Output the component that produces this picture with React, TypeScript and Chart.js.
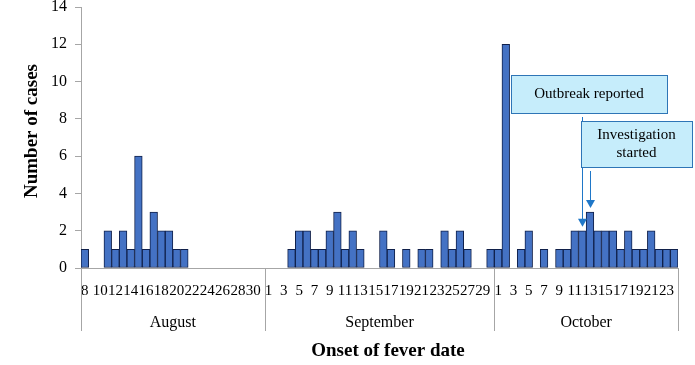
import React, { useEffect, useRef } from "react";
import { Chart, registerables } from "chart.js";

Chart.register(...registerables);

const months = ["August", "September", "October"];
const augDays = [8, 9, 10, 11, 12, 13, 14, 15, 16, 17, 18, 19, 20, 21, 22, 23, 24, 25, 26, 27, 28, 29, 30, 31];
const sepDays = [1, 2, 3, 4, 5, 6, 7, 8, 9, 10, 11, 12, 13, 14, 15, 16, 17, 18, 19, 20, 21, 22, 23, 24, 25, 26, 27, 28, 29, 30];
const octDays = [1, 2, 3, 4, 5, 6, 7, 8, 9, 10, 11, 12, 13, 14, 15, 16, 17, 18, 19, 20, 21, 22, 23, 24];

const augCases = [1, 0, 0, 2, 1, 2, 1, 6, 1, 3, 2, 2, 1, 1, 0, 0, 0, 0, 0, 0, 0, 0, 0, 0];
const sepCases = [0, 0, 0, 1, 2, 2, 1, 1, 2, 3, 1, 2, 1, 0, 0, 2, 1, 0, 1, 0, 1, 1, 0, 2, 1, 2, 1, 0, 0, 1];
const octCases = [1, 12, 0, 1, 2, 0, 1, 0, 1, 1, 2, 2, 3, 2, 2, 2, 1, 2, 1, 1, 2, 1, 1, 1];

const yTicks = [0, 2, 4, 6, 8, 10, 12, 14];

const annotations = [
  { text: ["Outbreak reported"], month: "October", day: 12 },
  { text: ["Investigation", "started"], month: "October", day: 13 },
];

const SERIF = "'Liberation Serif', 'DejaVu Serif', serif";

export default function App() {
  const ref = useRef<HTMLCanvasElement | null>(null);

  useEffect(() => {
    const monthDays = [augDays, sepDays, octDays];
    const labels: string[] = [];
    const keys: string[] = [];
    monthDays.forEach((days, m) =>
      days.forEach((d) => {
        labels.push(String(d));
        keys.push(months[m] + "-" + d);
      })
    );
    const values = [...augCases, ...sepCases, ...octCases];
    const monthCounts = monthDays.map((d) => d.length);

    const overlay = {
      id: "overlay",
      afterDraw(chart: any) {
        const ctx = chart.ctx as CanvasRenderingContext2D;
        const xs = chart.scales.x;
        const area = chart.chartArea;
        const catW = (area.right - area.left) / labels.length;
        ctx.save();
        // month separators and labels
        ctx.strokeStyle = "#a6a6a6";
        ctx.lineWidth = 1;
        let start = 0;
        const bounds: number[] = [0];
        monthCounts.forEach((c) => {
          start += c;
          bounds.push(start);
        });
        bounds.forEach((b) => {
          const x = Math.round(area.left + b * catW) + 0.5;
          ctx.beginPath();
          ctx.moveTo(x, area.bottom);
          ctx.lineTo(x, area.bottom + 63);
          ctx.stroke();
        });
        ctx.fillStyle = "#000";
        ctx.font = "16px " + SERIF;
        ctx.textAlign = "center";
        ctx.textBaseline = "middle";
        months.forEach((m, i) => {
          const cx = area.left + ((bounds[i] + bounds[i + 1]) / 2) * catW;
          ctx.fillText(m, cx, area.bottom + 55);
        });
        // axis titles
        ctx.font = "bold 19px " + SERIF;
        ctx.fillText("Onset of fever date", 388, 351);
        ctx.save();
        ctx.translate(32, 131);
        ctx.rotate(-Math.PI / 2);
        ctx.fillText("Number of cases", 0, 0);
        ctx.restore();

        // annotations
        const ys = chart.scales.y;
        const boxes = [
          { x: 511, y: 75, w: 156, h: 38, arrowStart: 113 },
          { x: 581, y: 121, w: 111, h: 46, arrowStart: 167 },
        ];
        annotations.forEach((a, i) => {
          const b = boxes[i];
          const idx = keys.indexOf(a.month + "-" + a.day);
          const ax = Math.round(xs.getPixelForValue(idx)) + 0.5;
          const tipY = ys.getPixelForValue(values[idx]) - 4;
          ctx.fillStyle = "#c6edfb";
          ctx.fillRect(b.x, b.y, b.w, b.h);
          ctx.strokeStyle = "#2e75b6";
          ctx.lineWidth = 1;
          ctx.strokeRect(b.x + 0.5, b.y + 0.5, b.w, b.h);
          ctx.fillStyle = "#000";
          ctx.font = "15px " + SERIF;
          ctx.textAlign = "center";
          ctx.textBaseline = "middle";
          const lh = 18;
          const cy = b.y + b.h / 2 - ((a.text.length - 1) * lh) / 2;
          a.text.forEach((t, j) => ctx.fillText(t, b.x + b.w / 2, cy + j * lh));
          ctx.strokeStyle = "#1f77c8";
          ctx.fillStyle = "#1f77c8";
          ctx.beginPath();
          ctx.moveTo(ax, b.arrowStart + 4);
          ctx.lineTo(ax, tipY - 7);
          ctx.stroke();
          ctx.beginPath();
          ctx.moveTo(ax - 4.5, tipY - 8);
          ctx.lineTo(ax + 4.5, tipY - 8);
          ctx.lineTo(ax, tipY);
          ctx.closePath();
          ctx.fill();
        });
        ctx.restore();
      },
    };

    const chart = new Chart(ref.current as HTMLCanvasElement, {
      type: "bar",
      data: {
        labels,
        datasets: [
          {
            data: values,
            backgroundColor: "#4472c4",
            borderColor: "#10204a",
            borderWidth: 1,
            borderSkipped: false,
            barPercentage: 1,
            categoryPercentage: 1,
          },
        ],
      },
      options: {
        animation: false,
        responsive: true,
        maintainAspectRatio: false,
        layout: { padding: { left: 0, right: 17, top: 7, bottom: 0 } },
        plugins: { legend: { display: false }, tooltip: { enabled: false } },
        scales: {
          x: {
            grid: { display: false },
            border: { display: true, color: "#a6a6a6" },
            afterFit: (s: any) => {
              s.height = 97;
              s.paddingLeft = 0;
              s.paddingRight = 0;
            },
            ticks: {
              autoSkip: false,
              maxRotation: 0,
              minRotation: 0,
              padding: 6,
              color: "#000",
              font: { family: SERIF, size: 15 },
              callback: (_v: any, i: number) => (i % 2 === 0 ? labels[i] : ""),
            },
          },
          y: {
            min: 0,
            max: 14,
            afterBuildTicks: (s: any) => {
              s.ticks = yTicks.map((v) => ({ value: v }));
            },
            afterFit: (s: any) => {
              s.width = 81;
              s.paddingTop = 0;
              s.paddingBottom = 0;
            },
            grid: { display: true, drawOnChartArea: false, tickLength: 6, color: "#a6a6a6" },
            border: { display: true, color: "#a6a6a6" },
            ticks: {
              padding: 8,
              color: "#000",
              font: { family: SERIF, size: 16 },
            },
          },
        },
      },
      plugins: [overlay],
    });
    return () => chart.destroy();
  }, []);

  return (
    <div style={{ position: "absolute", left: 0, top: 0, width: 695, height: 365 }}>
      <canvas ref={ref} />
    </div>
  );
}
